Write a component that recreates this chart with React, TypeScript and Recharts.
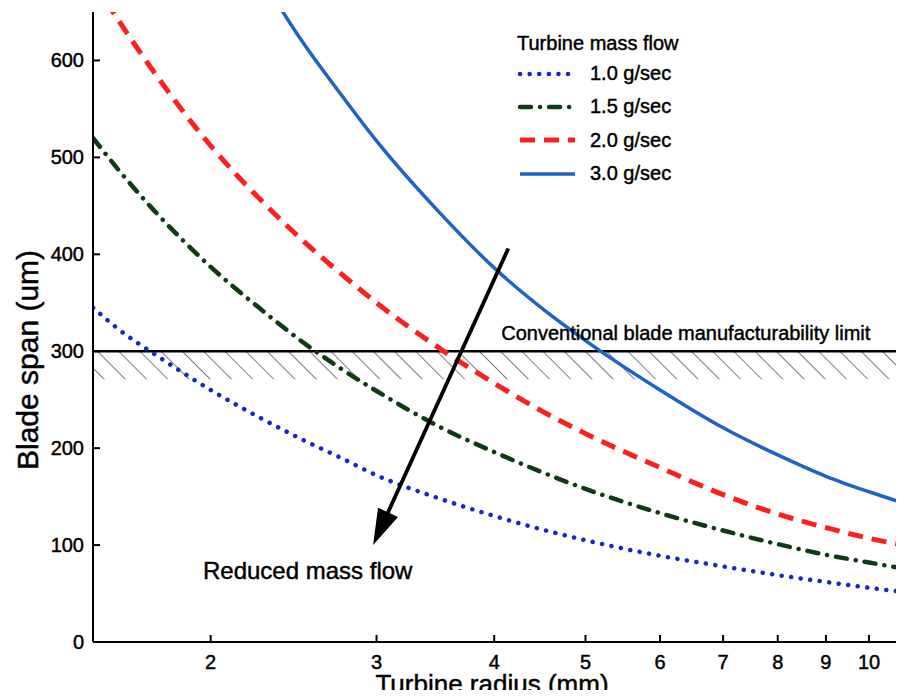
import React from 'react';
import {
  LineChart, Line, XAxis, YAxis, ReferenceLine, ReferenceArea, ReferenceDot, Legend,
} from 'recharts';

const FONT = '"Liberation Sans", Arial, Helvetica, sans-serif';

// Turbine radius (mm)
const radius = [1.5, 1.6, 1.75, 2, 2.25, 2.5, 2.75, 3, 3.5, 4, 4.5, 5, 6, 7, 8, 9, 10, 11];
// Blade span (um) for each turbine mass flow
const flow10 = [345, 322, 296, 260, 232, 209, 190, 172, 148, 130, 116, 105, 89, 78, 69, 62, 56, 51];
const flow15 = [520, 486, 443, 387, 345, 310, 282, 259, 222, 196, 175, 158, 133, 115, 101, 90, 82, 75];
const flow20 = [682, 640, 585, 512, 458, 415, 380, 350, 303, 267, 238, 215, 180, 152, 132, 118, 107, 99];
const flow30 = [null, null, null, 775, 690, 620, 565, 517, 443, 386, 344, 311, 260, 221, 193, 171, 155, 142];

const xTicks = [2, 3, 4, 5, 6, 7, 8, 9, 10];
const yTicks = [0, 100, 200, 300, 400, 500, 600];
const xDomain = [1.5, 11];
const yDomain = [0, 650];

const limitValue = 300;
const limitBandLow = 271;
const limitText = 'Conventional blade manufacturability limit';
const limitTextAt = { x: 4.06, y: 319 };
const arrowFrom = { x: 4.14, y: 406 };
const arrowTo = { x: 2.975, y: 100 };
const arrowText = 'Reduced mass flow';
const arrowTextAt = { x: 1.958, y: 74 };

const legendTitle = 'Turbine mass flow';
const series = [
  { key: 'f10', name: '1.0 g/sec', color: '#1428c8', width: 4.5, dash: '0.1 9.5', cap: 'round' },
  { key: 'f15', name: '1.5 g/sec', color: '#0f3b14', width: 4.5, dash: '11 9 0.1 9', cap: 'round' },
  { key: 'f20', name: '2.0 g/sec', color: '#ff1e1e', width: 5, dash: '15 9', cap: 'butt' },
  { key: 'f30', name: '3.0 g/sec', color: '#1f63c6', width: 3.5, dash: undefined, cap: 'butt' },
];

const data = radius.map((r, i) => ({
  r, f10: flow10[i], f15: flow15[i], f20: flow20[i], f30: flow30[i],
}));

const TXT = { fontFamily: FONT, fill: '#000', stroke: '#000', strokeWidth: 0.45 };

const BottomTick = (p: any) => (
  <g>
    <line x1={p.x} y1={p.y} x2={p.x} y2={p.y - 7} stroke="#000" strokeWidth={2} />
    <text x={p.x} y={p.y + 13} dy="0.71em" textAnchor="middle" fontSize={20} {...TXT}>
      {p.payload.value}
    </text>
  </g>
);
const TopTick = (p: any) => (
  <line x1={p.x} y1={p.y} x2={p.x} y2={p.y + 7} stroke="#000" strokeWidth={2} />
);
const LeftTick = (p: any) => (
  <g>
    <line x1={p.x} y1={p.y} x2={p.x + 7} y2={p.y} stroke="#000" strokeWidth={2} />
    <text x={p.x - 9} y={p.y} dy="0.35em" textAnchor="end" fontSize={20} {...TXT}>
      {p.payload.value}
    </text>
  </g>
);
const RightTick = (p: any) => (
  <line x1={p.x} y1={p.y} x2={p.x - 7} y2={p.y} stroke="#000" strokeWidth={2} />
);

const ArrowShape = (p: any) => {
  const { x1, y1, x2, y2 } = p;
  if ([x1, y1, x2, y2].some((v) => typeof v !== 'number' || isNaN(v))) return null;
  const dx = x2 - x1;
  const dy = y2 - y1;
  const len = Math.hypot(dx, dy) || 1;
  const ux = dx / len;
  const uy = dy / len;
  const headLen = 36;
  const headW = 11;
  const bx = x2 - ux * headLen;
  const by = y2 - uy * headLen;
  const px = -uy;
  const py = ux;
  return (
    <g>
      <line x1={x1} y1={y1} x2={bx + ux * 4} y2={by + uy * 4} stroke="#000" strokeWidth={3.8} />
      <polygon
        points={`${x2},${y2} ${bx + px * headW},${by + py * headW} ${bx - px * headW},${by - py * headW}`}
        fill="#000"
      />
    </g>
  );
};

const LegendBox = () => (
  <div style={{ fontFamily: FONT, fontSize: 20, color: '#000', WebkitTextStroke: '0.45px #000' }}>
    <div style={{ height: 28, lineHeight: '28px', whiteSpace: 'nowrap' }}>{legendTitle}</div>
    {series.map((s) => (
      <div key={s.key} style={{ height: 33.3, display: 'flex', alignItems: 'center', whiteSpace: 'nowrap' }}>
        <svg width={61} height={10} style={{ marginRight: 12, display: 'block' }}>
          <line
            x1={3} y1={5} x2={58} y2={5}
            stroke={s.color} strokeWidth={s.width}
            strokeDasharray={s.dash} strokeLinecap={s.cap as any}
          />
        </svg>
        <span>{s.name}</span>
      </div>
    ))}
  </div>
);

export default function App() {
  return (
    <div style={{ margin: -8, width: 904, height: 698, overflow: 'hidden', position: 'relative', background: '#fff' }}>
      <LineChart width={920} height={698} data={data} margin={{ top: 12, right: 12, bottom: 0, left: 0 }}>
        <defs>
          <pattern id="hatch" patternUnits="userSpaceOnUse" width={15} height={15} patternTransform="rotate(-45)">
            <line x1={0} y1={0} x2={0} y2={15} stroke="#1c2430" strokeWidth={1.2} />
          </pattern>
        </defs>
        <XAxis
          dataKey="r" type="number" scale="log" domain={xDomain} ticks={xTicks}
          allowDataOverflow height={56} tickLine={false} tickSize={0} tickMargin={0}
          tick={<BottomTick />} axisLine={{ stroke: '#000', strokeWidth: 2 }}
          interval={0}
          label={(lp: any) => (
            <text x={492} y={693} textAnchor="middle" fontSize={26} {...TXT}>
              Turbine radius (mm)
            </text>
          )}
        />
        <XAxis
          xAxisId="top" orientation="top" dataKey="r" type="number" scale="log" domain={xDomain}
          ticks={xTicks} allowDataOverflow height={0} tickLine={false} tickSize={0} tickMargin={0}
          tick={<TopTick />} axisLine={{ stroke: '#000', strokeWidth: 2 }} interval={0}
        />
        <YAxis
          type="number" domain={yDomain} ticks={yTicks} allowDataOverflow width={93}
          tickLine={false} tickSize={0} tickMargin={0} tick={<LeftTick />} interval={0}
          axisLine={{ stroke: '#000', strokeWidth: 2 }}
          label={(lp: any) => (
            <text
              x={27} y={360} dy="0.35em" textAnchor="middle" transform="rotate(-90, 27, 360)"
              fontSize={30} {...TXT}
            >
              Blade span (um)
            </text>
          )}
        />
        <YAxis
          yAxisId="right" orientation="right" type="number" domain={yDomain} ticks={yTicks}
          allowDataOverflow width={0} tickLine={false} tickSize={0} tickMargin={0}
          tick={<RightTick />} interval={0} axisLine={{ stroke: '#000', strokeWidth: 2 }}
        />
        <ReferenceArea y1={limitBandLow} y2={limitValue} fill="url(#hatch)" fillOpacity={1} stroke="none" />
        <ReferenceLine y={limitValue} stroke="#000" strokeWidth={2.5} />
        {series.map((s) => (
          <Line
            key={s.key} dataKey={s.key} name={s.name} type="monotone" stroke={s.color}
            strokeWidth={s.width} strokeDasharray={s.dash} strokeLinecap={s.cap as any}
            dot={false} activeDot={false} isAnimationActive={false} connectNulls={false}
          />
        ))}
        <ReferenceLine
          segment={[arrowFrom, arrowTo]} stroke="#000" strokeWidth={3.8} shape={ArrowShape}
        />
        <ReferenceDot
          x={limitTextAt.x} y={limitTextAt.y} r={1} fill="none" stroke="none"
          label={{ value: limitText, position: 'right', offset: 0, fontFamily: FONT, fontSize: 20, fill: '#000', stroke: '#000', strokeWidth: 0.45 }}
        />
        <ReferenceDot
          x={arrowTextAt.x} y={arrowTextAt.y} r={1} fill="none" stroke="none"
          label={{ value: arrowText, position: 'right', offset: 0, fontFamily: FONT, fontSize: 24, fill: '#000', stroke: '#000', strokeWidth: 0.45 }}
        />
        <Legend
          layout="vertical" align="center" verticalAlign="middle"
          wrapperStyle={{ left: 517, top: 29, width: 'auto', height: 'auto' }}
          content={<LegendBox />}
        />
      </LineChart>
    </div>
  );
}
